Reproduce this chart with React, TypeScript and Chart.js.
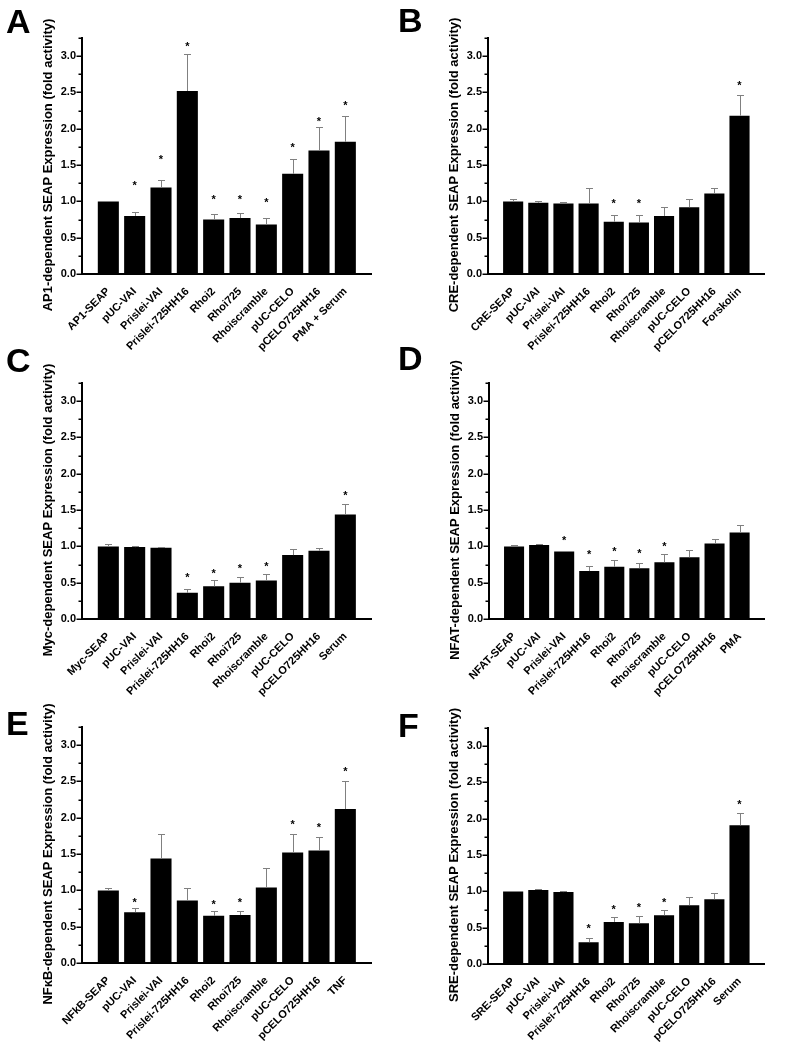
import React, { useEffect, useRef } from 'react';
import { Chart, registerables } from 'chart.js';

Chart.register(...registerables);

const FONT = "'Liberation Sans', Arial, Helvetica, sans-serif";

// ---------- data ----------
const categoriesA = ['AP1-SEAP', 'pUC-VAI', 'Prislei-VAI', 'Prislei-725HH16', 'Rhoi2', 'Rhoi725', 'Rhoiscramble', 'pUC-CELO', 'pCELO725HH16', 'PMA + Serum'];
const valuesA = [1.0, 0.8, 1.19, 2.52, 0.75, 0.77, 0.68, 1.38, 1.7, 1.82];
const errorsA = [0.01, 0.06, 0.11, 0.51, 0.07, 0.07, 0.09, 0.2, 0.33, 0.36];
const starsA = [null, 1.25, 1.61, 3.16, 1.05, 1.06, 1.01, 1.77, 2.13, 2.35];

const categoriesB = ['CRE-SEAP', 'pUC-VAI', 'Prislei-VAI', 'Prislei-725HH16', 'Rhoi2', 'Rhoi725', 'Rhoiscramble', 'pUC-CELO', 'pCELO725HH16', 'Forskolin'];
const valuesB = [1.0, 0.98, 0.97, 0.97, 0.72, 0.71, 0.8, 0.92, 1.11, 2.18];
const errorsB = [0.03, 0.03, 0.02, 0.21, 0.09, 0.1, 0.12, 0.11, 0.07, 0.28];
const starsB = [null, null, null, null, 1.0, 1.0, null, null, null, 2.62];

const categoriesC = ['Myc-SEAP', 'pUC-VAI', 'Prislei-VAI', 'Prislei-725HH16', 'Rhoi2', 'Rhoi725', 'Rhoiscramble', 'pUC-CELO', 'pCELO725HH16', 'Serum'];
const valuesC = [1.0, 0.99, 0.98, 0.36, 0.45, 0.5, 0.53, 0.88, 0.94, 1.44];
const errorsC = [0.03, 0.01, 0.01, 0.05, 0.09, 0.08, 0.09, 0.09, 0.04, 0.15];
const starsC = [null, null, null, 0.6, 0.66, 0.72, 0.75, null, null, 1.73];

const categoriesD = ['NFAT-SEAP', 'pUC-VAI', 'Prislei-VAI', 'Prislei-725HH16', 'Rhoi2', 'Rhoi725', 'Rhoiscramble', 'pUC-CELO', 'pCELO725HH16', 'PMA'];
const valuesD = [1.0, 1.02, 0.93, 0.66, 0.72, 0.7, 0.78, 0.85, 1.04, 1.19];
const errorsD = [0.02, 0.01, 0.01, 0.07, 0.09, 0.07, 0.12, 0.1, 0.06, 0.11];
const starsD = [null, null, 1.11, 0.92, 0.96, 0.93, 1.03, null, null, null];

const categoriesE = ['NFkB-SEAP', 'pUC-VAI', 'Prislei-VAI', 'Prislei-725HH16', 'Rhoi2', 'Rhoi725', 'Rhoiscramble', 'pUC-CELO', 'pCELO725HH16', 'TNF'];
const valuesE = [1.0, 0.7, 1.44, 0.86, 0.65, 0.66, 1.04, 1.52, 1.55, 2.12];
const errorsE = [0.03, 0.06, 0.34, 0.17, 0.07, 0.06, 0.27, 0.26, 0.19, 0.38];
const starsE = [null, 0.86, null, null, 0.84, 0.86, null, 1.93, 1.89, 2.66];

const categoriesF = ['SRE-SEAP', 'pUC-VAI', 'Prislei-VAI', 'Prislei-725HH16', 'Rhoi2', 'Rhoi725', 'Rhoiscramble', 'pUC-CELO', 'pCELO725HH16', 'Serum'];
const valuesF = [1.0, 1.02, 0.99, 0.3, 0.58, 0.56, 0.67, 0.81, 0.89, 1.91];
const errorsF = [0.01, 0.01, 0.01, 0.06, 0.07, 0.1, 0.08, 0.11, 0.09, 0.17];
const starsF = [null, null, null, 0.52, 0.78, 0.81, 0.87, null, null, 2.23];

const yMin = 0;
const yMax = 3.25;
const yMajorStep = 0.5;
const yMinorStep = 0.25;

// ---------- component ----------
type PanelProps = {
  letter: string;
  letterY: number;
  title: string;
  categories: string[];
  values: number[];
  errors: number[];
  stars: (number | null)[];
  left: number;
  top: number;
  width: number;
  height: number;
  padTop: number;
  axisLeft: number;
  axisRight: number;
};

function Panel(p: PanelProps) {
  const ref = useRef<HTMLCanvasElement>(null);
  useEffect(() => {
    const canvas = ref.current;
    if (!canvas) return;
    const plotH = 236;
    const labels = ['', ...p.categories, ''];
    const data = [null, ...p.values, null];

    const decor = {
      id: 'decor',
      afterDatasetsDraw(chart: any) {
        const ctx = chart.ctx as CanvasRenderingContext2D;
        const meta = chart.getDatasetMeta(0);
        const ys = chart.scales.y;
        ctx.save();
        // error bars
        ctx.strokeStyle = '#808080';
        ctx.lineWidth = 1;
        p.values.forEach((v, i) => {
          const bar = meta.data[i + 1];
          if (!bar) return;
          const x = Math.round(bar.x) + 0.5;
          const y0 = ys.getPixelForValue(v);
          const y1 = Math.round(ys.getPixelForValue(v + p.errors[i])) + 0.5;
          ctx.beginPath();
          ctx.moveTo(x, y0);
          ctx.lineTo(x, y1);
          ctx.moveTo(x - 3.5, y1);
          ctx.lineTo(x + 3.5, y1);
          ctx.stroke();
        });
        // asterisks
        ctx.fillStyle = '#000';
        ctx.font = `bold 11px ${FONT}`;
        ctx.textAlign = 'center';
        ctx.textBaseline = 'alphabetic';
        const m = ctx.measureText('*');
        const asc = m.actualBoundingBoxAscent || 8;
        const desc = m.actualBoundingBoxDescent || -4;
        p.stars.forEach((s, i) => {
          if (s === null) return;
          const bar = meta.data[i + 1];
          if (!bar) return;
          const cy = ys.getPixelForValue(s);
          ctx.fillText('*', bar.x, cy + (asc - desc) / 2);
        });
        ctx.restore();
      },
      afterDraw(chart: any) {
        const ctx = chart.ctx as CanvasRenderingContext2D;
        const ys = chart.scales.y;
        const area = chart.chartArea;
        ctx.save();
        // y ticks (major + minor)
        ctx.strokeStyle = '#000';
        ctx.lineWidth = 1.5;
        const n = Math.round((yMax - yMin) / yMinorStep);
        for (let k = 0; k <= n; k++) {
          const v = yMin + k * yMinorStep;
          const major = Math.abs(v / yMajorStep - Math.round(v / yMajorStep)) < 1e-6;
          const len = major ? 4.5 : 2.5;
          const y = Math.round(ys.getPixelForValue(v)) + 0.25;
          ctx.beginPath();
          ctx.moveTo(area.left - 1 - len, y);
          ctx.lineTo(area.left, y);
          ctx.stroke();
        }
        // y title
        ctx.fillStyle = '#000';
        ctx.font = `bold 13px ${FONT}`;
        ctx.textAlign = 'center';
        ctx.textBaseline = 'middle';
        ctx.translate(area.left - 34, (area.top + area.bottom) / 2 + 9);
        ctx.rotate(-Math.PI / 2);
        ctx.fillText(p.title, 0, 0);
        ctx.restore();
        // panel letter
        ctx.save();
        ctx.fillStyle = '#000';
        ctx.font = `bold 34px ${FONT}`;
        ctx.textAlign = 'left';
        ctx.textBaseline = 'alphabetic';
        ctx.fillText(p.letter, 6, p.letterY);
        ctx.restore();
      },
    };

    const chart = new Chart(canvas, {
      type: 'bar',
      data: {
        labels,
        datasets: [
          {
            data: data as any,
            backgroundColor: '#000',
            borderWidth: 0,
            barPercentage: 0.8,
            categoryPercentage: 1,
          },
        ],
      },
      options: {
        animation: false,
        responsive: false,
        devicePixelRatio: 1,
        layout: { padding: { top: p.padTop, left: 0, right: p.width - p.axisRight, bottom: 0 } },
        plugins: { legend: { display: false }, tooltip: { enabled: false } },
        scales: {
          x: {
            type: 'category',
            offset: false,
            grid: { display: false, drawTicks: false },
            border: { display: true, color: '#000', width: 2 },
            ticks: {
              autoSkip: false,
              maxRotation: 45,
              minRotation: 45,
              padding: 11,
              color: '#000',
              font: { family: FONT, size: 11, weight: 'bold' },
            },
            afterFit(s: any) {
              s.height = p.height - p.padTop - plotH;
            },
          },
          y: {
            min: yMin,
            max: yMax,
            grid: { display: false, drawTicks: false },
            border: { display: true, color: '#000', width: 2 },
            ticks: {
              stepSize: yMajorStep,
              includeBounds: false,
              padding: 6,
              color: '#000',
              font: { family: FONT, size: 11, weight: 'bold' },
              callback: (v: any) => Number(v).toFixed(1),
            },
            afterFit(s: any) {
              s.width = p.axisLeft;
            },
          },
        },
      } as any,
      plugins: [decor],
    });
    return () => chart.destroy();
  }, []);
  return (
    <canvas
      ref={ref}
      width={p.width}
      height={p.height}
      style={{ position: 'absolute', left: p.left, top: p.top, width: p.width, height: p.height }}
    />
  );
}

export default function App() {
  return (
    <div style={{ position: 'absolute', left: 0, top: 0, width: 785, height: 1050, background: '#fff', overflow: 'hidden' }}>
      <Panel letter="A" letterY={33} title="AP1-dependent SEAP Expression (fold activity)" categories={categoriesA} values={valuesA} errors={errorsA} stars={starsA}
        left={0} top={0} width={392} height={360} padTop={38} axisLeft={82} axisRight={372} />
      <Panel letter="B" letterY={32} title="CRE-dependent SEAP Expression (fold activity)" categories={categoriesB} values={valuesB} errors={errorsB} stars={starsB}
        left={392} top={0} width={393} height={360} padTop={38} axisLeft={96} axisRight={386} />
      <Panel letter="C" letterY={32} title="Myc-dependent SEAP Expression (fold activity)" categories={categoriesC} values={valuesC} errors={errorsC} stars={starsC}
        left={0} top={340} width={392} height={360} padTop={43} axisLeft={82} axisRight={372} />
      <Panel letter="D" letterY={30} title="NFAT-dependent SEAP Expression (fold activity)" categories={categoriesD} values={valuesD} errors={errorsD} stars={starsD}
        left={392} top={340} width={393} height={360} padTop={43} axisLeft={97} axisRight={387} />
      <Panel letter="E" letterY={45} title="NFκB-dependent SEAP Expression (fold activity)" categories={categoriesE} values={valuesE} errors={errorsE} stars={starsE}
        left={0} top={690} width={392} height={360} padTop={37} axisLeft={82} axisRight={372} />
      <Panel letter="F" letterY={47} title="SRE-dependent SEAP Expression (fold activity)" categories={categoriesF} values={valuesF} errors={errorsF} stars={starsF}
        left={392} top={690} width={393} height={360} padTop={38} axisLeft={96} axisRight={386} />
    </div>
  );
}
